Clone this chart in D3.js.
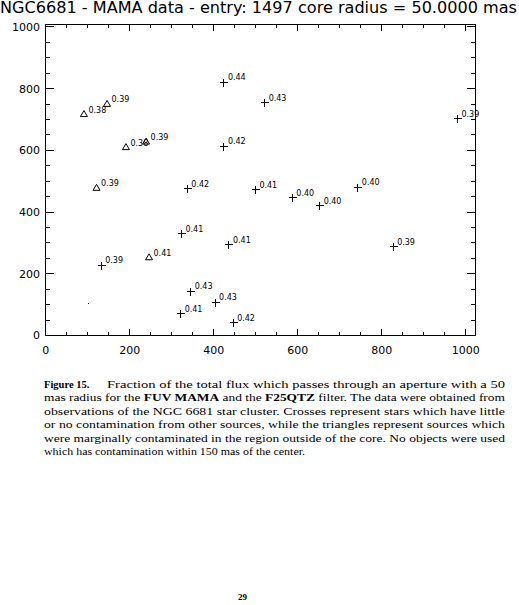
<!DOCTYPE html>
<html>
<head>
<meta charset="utf-8">
<script src="https://cdn.jsdelivr.net/npm/d3@7"></script>
<style>
  html, body { margin: 0; padding: 0; background: #fff; }
  svg { display: block; }
</style>
</head>
<body>
<script>
// ---- data ----
const titleText = "NGC6681 - MAMA data - entry: 1497 core radius = 50.0000 mas";
const crossX = [424, 521, 424, 337, 499, 587, 652, 743, 827, 980, 323, 436, 132, 345, 403, 321, 446];
const crossY = [821, 754, 614, 475, 472, 447, 420, 481, 288, 703, 330, 294, 227, 143, 108, 70, 41];
const crossLabels = ["0.44", "0.43", "0.42", "0.42", "0.41", "0.40", "0.40", "0.40", "0.39", "0.39", "0.41", "0.41", "0.39", "0.43", "0.43", "0.41", "0.42"];
const triX = [92, 147, 192, 240, 122, 247];
const triY = [716, 749, 609, 627, 477, 252];
const triLabels = ["0.38", "0.39", "0.38", "0.39", "0.39", "0.41"];
const dotX = [102];
const dotY = [104];
const xTicks = [0, 200, 400, 600, 800, 1000];
const yTicks = [0, 200, 400, 600, 800, 1000];
const captionLines = [
  "mas radius for the FUV MAMA and the F25QTZ filter.  The data were obtained from",
  "observations of the NGC 6681 star cluster.  Crosses represent stars which have little",
  "or no contamination from other sources, while the triangles represent sources which",
  "were marginally contaminated in the region outside of the core.  No objects were used",
  "which has contamination within 150 mas of the center."
];

(function () {
// ---- layout ----
const W = 519, H = 605;
const svg = d3.select("body").append("svg").attr("width", W).attr("height", H);

const x = d3.scaleLinear().domain([0, 1024]).range([45.3, 475.4]);
const y = d3.scaleLinear().domain([0, 1008]).range([335, 24]);

const font = "DejaVu Sans, sans-serif";

// title
svg.append("text").attr("x", 0).attr("y", 13)
  .attr("font-family", font).attr("font-size", 15)
  .attr("textLength", 517).attr("lengthAdjust", "spacingAndGlyphs")
  .text(titleText);

const g = svg.append("g").attr("shape-rendering", "crispEdges");

// frame
const x0 = Math.round(x.range()[0]) + 0.5, x1 = Math.round(x.range()[1]) + 0.5;
const y0 = Math.round(y.range()[0]) + 0.5, y1 = Math.round(y.range()[1]) + 0.5;
g.append("rect").attr("x", x0).attr("y", y1).attr("width", x1 - x0).attr("height", y0 - y1)
  .attr("fill", "none").attr("stroke", "#000").attr("stroke-width", 1);

// axes via d3 axis generators (ticks, mirrored)
const xMinor = d3.range(0, 1001, 50);
const yMinor = d3.range(0, 1001, 50);
function styleAxis(sel) {
  sel.select(".domain").remove();
  sel.selectAll("line").attr("stroke", "#000").attr("stroke-width", 1);
}
const xMajLen = 6.2, xMinLen = 3.1, yMajLen = 8.6, yMinLen = 4.3;

const axBottom = g.append("g").attr("transform", `translate(0,${y0})`)
  .call(d3.axisTop(x).tickValues(xMinor).tickSize(0).tickFormat(""));
axBottom.selectAll(".tick line").attr("y2", d => -(d % 200 === 0 ? xMajLen : xMinLen));
styleAxis(axBottom);

const axTop = g.append("g").attr("transform", `translate(0,${y1})`)
  .call(d3.axisBottom(x).tickValues(xMinor).tickSize(0).tickFormat(""));
axTop.selectAll(".tick line").attr("y2", d => (d % 200 === 0 ? xMajLen : xMinLen));
styleAxis(axTop);

const axLeft = g.append("g").attr("transform", `translate(${x0},0)`)
  .call(d3.axisRight(y).tickValues(yMinor).tickSize(0).tickFormat(""));
axLeft.selectAll(".tick line").attr("x2", d => (d % 200 === 0 ? yMajLen : yMinLen));
styleAxis(axLeft);

const axRight = g.append("g").attr("transform", `translate(${x1},0)`)
  .call(d3.axisLeft(y).tickValues(yMinor).tickSize(0).tickFormat(""));
axRight.selectAll(".tick line").attr("x2", d => -(d % 200 === 0 ? yMajLen : yMinLen));
styleAxis(axRight);

// tick labels
const xl = svg.append("g").attr("transform", `translate(0,${y0})`)
  .call(d3.axisBottom(x).tickValues(xTicks).tickSize(0).tickPadding(0).tickFormat(d3.format("d")));
xl.select(".domain").remove();
xl.selectAll("text").attr("y", 18.5).attr("dy", 0).attr("font-family", font).attr("font-size", 11).attr("fill", "#000");

const yl = svg.append("g").attr("transform", `translate(${x0},0)`)
  .call(d3.axisLeft(y).tickValues(yTicks).tickSize(0).tickPadding(0).tickFormat(d3.format("d")));
yl.select(".domain").remove();
yl.selectAll("text").attr("x", -5.5).attr("dy", "0.36em").attr("font-family", font).attr("font-size", 11).attr("fill", "#000");

// markers
const crosses = crossX.map((v, i) => ({ x: v, y: crossY[i], label: crossLabels[i] }));
const tris = triX.map((v, i) => ({ x: v, y: triY[i], label: triLabels[i] }));
const dots = dotX.map((v, i) => ({ x: v, y: dotY[i] }));

const mk = svg.append("g").attr("shape-rendering", "crispEdges");
mk.selectAll("path.cross").data(crosses).join("path").attr("class", "cross")
  .attr("d", d => {
    const cx = Math.round(x(d.x)) + 0.5, cy = Math.round(y(d.y)) + 0.5;
    return `M${cx - 4},${cy}H${cx + 4}M${cx},${cy - 4}V${cy + 4}`;
  })
  .attr("stroke", "#000").attr("stroke-width", 1).attr("fill", "none");

svg.selectAll("path.tri").data(tris).join("path").attr("class", "tri")
  .attr("d", d => {
    const cx = x(d.x), cy = y(d.y);
    return `M${cx - 3.5},${cy + 2.5}L${cx},${cy - 3.5}L${cx + 3.5},${cy + 2.5}Z`;
  })
  .attr("stroke", "#000").attr("stroke-width", 1).attr("fill", "none");

mk.selectAll("rect.dot").data(dots).join("rect").attr("class", "dot")
  .attr("x", d => Math.round(x(d.x))).attr("y", d => Math.round(y(d.y)))
  .attr("width", 1).attr("height", 1).attr("fill", "#000");

// point labels
svg.selectAll("text.plab").data(crosses.concat(tris)).join("text").attr("class", "plab")
  .attr("x", d => x(d.x) + 4.5).attr("y", d => y(d.y) - 1.5)
  .attr("font-family", font).attr("font-size", 8).attr("fill", "#000")
  .text(d => d.label);

// caption
const serif = "Liberation Serif, Times New Roman, serif";
const cap = svg.append("g").attr("font-family", serif).attr("font-size", 10.5).attr("fill", "#000");
cap.append("text").attr("x", 44).attr("y", 388).attr("font-weight", "bold").text("Figure 15.");
cap.append("text").attr("x", 107).attr("y", 388)
  .attr("textLength", 398).attr("lengthAdjust", "spacingAndGlyphs")
  .text("Fraction of the total flux which passes through an aperture with a 50");
const bolds = ["FUV MAMA", "F25QTZ"];
captionLines.forEach((line, i) => {
  const t = cap.append("text").attr("x", 44).attr("y", 401.4 + i * 13.4);
  if (i < captionLines.length - 1) t.attr("textLength", 461).attr("lengthAdjust", "spacingAndGlyphs");
  else t.attr("textLength", 261).attr("lengthAdjust", "spacingAndGlyphs");
  const re = new RegExp("(" + bolds.join("|") + ")");
  line.split(re).forEach(part => {
    if (!part) return;
    const ts = t.append("tspan").text(part);
    if (bolds.includes(part)) ts.attr("font-weight", "bold");
  });
});

// page number
svg.append("text").attr("x", 242.5).attr("y", 600).attr("text-anchor", "middle")
  .attr("font-family", serif).attr("font-size", 9).attr("font-weight", "bold").text("29");
})();
</script>
</body>
</html>
